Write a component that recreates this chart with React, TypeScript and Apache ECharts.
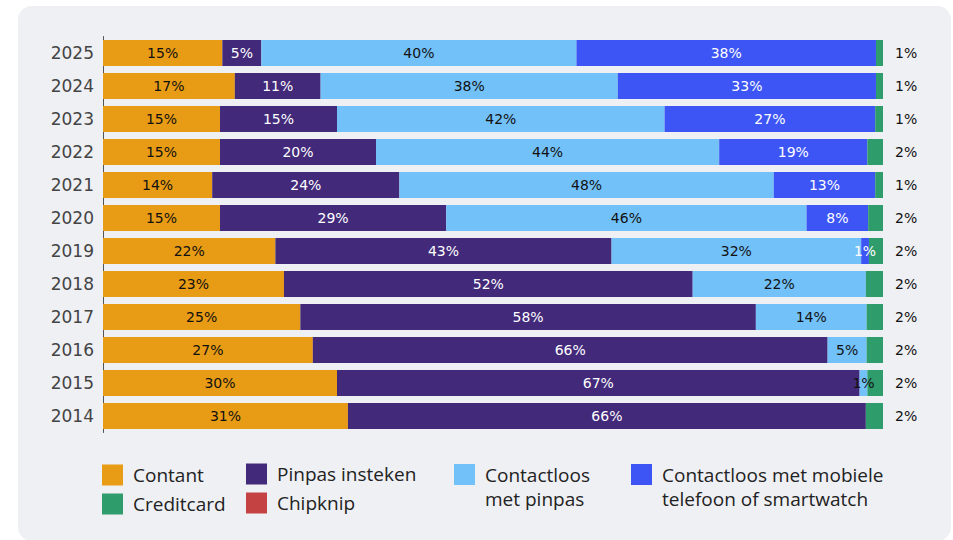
import React, { useEffect, useRef } from 'react';
import * as echarts from 'echarts';

const years = ['2025', '2024', '2023', '2022', '2021', '2020', '2019', '2018', '2017', '2016', '2015', '2014'];
const contant = [15.3, 16.9, 15.0, 15.0, 14.0, 15.0, 22.1, 23.2, 25.3, 26.9, 30.0, 31.4];
const pinpasInsteken = [5.0, 11.0, 15.0, 20.0, 24.0, 29.0, 43.1, 52.4, 58.4, 66.0, 67.0, 66.4];
const contactloosPinpas = [40.4, 38.1, 42.0, 44.0, 48.0, 46.2, 32.0, 22.2, 14.2, 5.0, 1.0, 0];
const contactloosMobiel = [38.4, 33.1, 27.0, 19.0, 13.0, 7.9, 1.0, 0, 0, 0, 0, 0];
const creditcard = [0.9, 0.9, 1.0, 2.0, 1.0, 1.9, 1.8, 2.2, 2.1, 2.1, 2.0, 2.2];
const chipknip = [0, 0, 0, 0, 0, 0, 0, 0, 0, 0, 0, 0];

const seriesNames = [
  'Contant',
  'Pinpas insteken',
  'Contactloos met pinpas',
  'Contactloos met mobiele telefoon of smartwatch',
  'Creditcard',
  'Chipknip',
];

const colors = ['#E89B14', '#42297A', '#73C1F9', '#3D55F5', '#2E9C6B', '#C44242'];

const pct = (p: any) => (p.value >= 0.5 ? Math.round(p.value) + '%' : '');

const legendText = {
  fontFamily: 'Open Sans',
  fontSize: 19,
  color: '#222',
  lineHeight: 24,
  padding: [0, 0, 0, 5],
};

export default function App() {
  const ref = useRef<HTMLDivElement>(null);
  useEffect(() => {
    const chart = echarts.init(ref.current!, null, { renderer: 'svg' });
    const dataLabel = (color: string) => ({
      show: true,
      position: 'inside',
      color,
      fontFamily: 'DejaVu Sans',
      fontSize: 14,
      formatter: pct,
    });
    const values = [contant, pinpasInsteken, contactloosPinpas, contactloosMobiel, creditcard, chipknip];
    const labelColors = ['#111', '#fff', '#111', '#fff', '#111', '#fff'];
    const series: any[] = values.map((v, i) => ({
      name: seriesNames[i],
      type: 'bar',
      stack: 'total',
      barWidth: 26,
      data: v,
      itemStyle: { color: colors[i] },
      label:
        i === 4
          ? { ...dataLabel('#111'), position: 'right', distance: 12 }
          : i === 5
          ? { show: false }
          : dataLabel(labelColors[i]),
      emphasis: { disabled: true },
    }));

    const legendBase = {
      orient: 'vertical',
      padding: 0,
      itemWidth: 21,
      itemHeight: 21,
      itemGap: 5,
      icon: 'rect',
      textStyle: legendText,
      selectedMode: false,
    };

    chart.setOption({
      animation: false,
      color: colors,
      graphic: [
        {
          type: 'rect',
          z: -10,
          silent: true,
          shape: { x: 18, y: 6, width: 933, height: 535, r: 14 },
          style: { fill: '#EFF0F4' },
        },
      ],
      grid: { left: 103, right: 70, top: 36.5, bottom: 107.5, containLabel: false },
      xAxis: { type: 'value', min: 0, max: 100, show: false },
      yAxis: {
        type: 'category',
        data: years,
        inverse: true,
        axisLine: { show: true, lineStyle: { color: '#555', width: 1 } },
        axisTick: { show: false },
        axisLabel: { color: '#444', fontFamily: 'DejaVu Sans', fontSize: 17, margin: 9 },
      },
      legend: [
        { ...legendBase, left: 102, top: 463, data: ['Contant', 'Creditcard'] },
        { ...legendBase, left: 246, top: 462, data: ['Pinpas insteken', 'Chipknip'] },
        {
          ...legendBase,
          left: 454,
          top: 438.5,
          data: ['Contactloos met pinpas'],
          formatter: () => ' \nContactloos\nmet pinpas',
        },
        {
          ...legendBase,
          left: 631,
          top: 438.5,
          data: ['Contactloos met mobiele telefoon of smartwatch'],
          formatter: () => ' \nContactloos met mobiele\ntelefoon of smartwatch',
        },
      ],
      series,
    });
    return () => chart.dispose();
  }, []);
  return (
    <div
      ref={ref}
      style={{ position: 'absolute', left: 0, top: 0, width: 953, height: 540 }}
    />
  );
}
